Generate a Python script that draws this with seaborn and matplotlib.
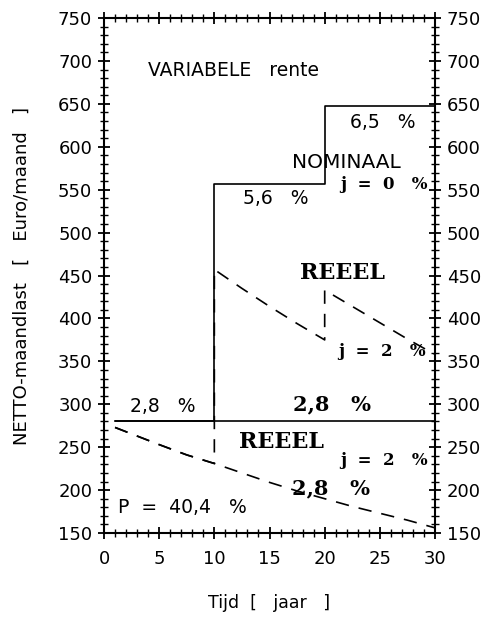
import matplotlib
matplotlib.use("Agg")
import matplotlib.pyplot as plt
from matplotlib.ticker import MultipleLocator
import seaborn as sns

# Nominal monthly payment, variable rate (step changes at 10 and 20 years)
var_years = [1, 10, 20, 30]
var_nominal = [280, 557, 647, 647]

# Nominal monthly payment, fixed rate 2.8 %
fixed_years = [1, 30]
fixed_nominal = [280, 280]

# Real (inflation-corrected) payment, fixed rate
real_fixed_years = [1, 3, 5, 7.5, 10, 12.5, 15, 17.5, 20, 22.5, 25, 27.5, 30]
real_fixed_vals = [273, 263, 253, 241, 231, 220, 209, 199, 190, 181, 173, 165, 156]

# Real payment, variable rate
real_var_years = [1, 3, 5, 7.5, 10, 10, 12.5, 15, 17.5, 20, 20, 22.5, 25, 27.5, 30]
real_var_vals = [273, 263, 253, 241, 231, 457, 435, 414, 394, 375, 433, 414, 395, 376, 358]

sns.set_theme(style="white")
plt.rcParams["font.family"] = ["DejaVu Sans"]

fig = plt.figure(figsize=(4.89, 6.17), dpi=100)
ax = fig.add_axes([0.2127, 0.1361, 0.6769, 0.8347])

lw = 1.2
sns.lineplot(x=var_years, y=var_nominal, ax=ax, color="black", lw=lw,
             drawstyle="steps-post", sort=False, estimator=None)
sns.lineplot(x=fixed_years, y=fixed_nominal, ax=ax, color="black", lw=lw,
             sort=False, estimator=None)
dash = (0, (8, 6))
sns.lineplot(x=real_fixed_years, y=real_fixed_vals, ax=ax, color="black", lw=lw,
             linestyle=dash, sort=False, estimator=None)
sns.lineplot(x=real_var_years, y=real_var_vals, ax=ax, color="black", lw=lw,
             linestyle=dash, sort=False, estimator=None)

ax.set_xlim(0, 30)
ax.set_ylim(150, 750)
ax.xaxis.set_major_locator(MultipleLocator(5))
ax.xaxis.set_minor_locator(MultipleLocator(1))
ax.yaxis.set_major_locator(MultipleLocator(50))
ax.yaxis.set_minor_locator(MultipleLocator(10))

for s in ax.spines.values():
    s.set_visible(True)
    s.set_color("black")
    s.set_linewidth(1.5)

tick_kw = dict(colors="black", direction="inout")
ax.tick_params(axis="both", which="major", length=9, width=1.3, labelsize=13, **tick_kw)
ax.tick_params(axis="both", which="minor", length=6, width=1.0, **tick_kw)
ax.tick_params(axis="y", which="both", left=True, right=True, labelleft=True, labelright=True, pad=4)
ax.tick_params(axis="x", which="both", bottom=True, top=True, labelbottom=True, labeltop=False, pad=8)

ax.set_xlabel("Tijd  [   jaar   ]", fontsize=12.5, color="black")
ax.set_ylabel("NETTO-maandlast   [   Euro/maand   ]", fontsize=13, color="black")
ax.xaxis.set_label_coords(0.5, -0.118)
ax.yaxis.set_label_coords(-0.222, 0.5)

plain = dict(fontsize=13.5, color="black", va="center", ha="left")
bold = dict(family="DejaVu Serif", fontweight="bold", color="black", va="center", ha="left")

ax.text(4.0, 689, "VARIABELE   rente", **plain)
ax.text(22.3, 628, "6,5   %", **plain)
ax.text(17.0, 582, "NOMINAAL", fontsize=14.5, color="black", va="center", ha="left")
ax.text(21.4, 556, "j  =  0   %", fontsize=12, **bold)
ax.text(12.6, 540, "5,6   %", **plain)
ax.text(17.8, 453, "REEEL", fontsize=16, **bold)
ax.text(21.2, 361, "j  =  2   %", fontsize=12, **bold)
ax.text(17.1, 300, "2,8   %", fontsize=15, **bold)
ax.text(2.4, 297, "2,8   %", **plain)
ax.text(12.2, 256, "REEEL", fontsize=16, **bold)
ax.text(21.4, 234, "j  =  2   %", fontsize=12, **bold)
ax.text(17.0, 202, "2,8   %", fontsize=15, **bold)
ax.text(1.3, 180, "P  =  40,4   %", **plain)

fig.savefig("out.png", dpi=100, facecolor="white")
